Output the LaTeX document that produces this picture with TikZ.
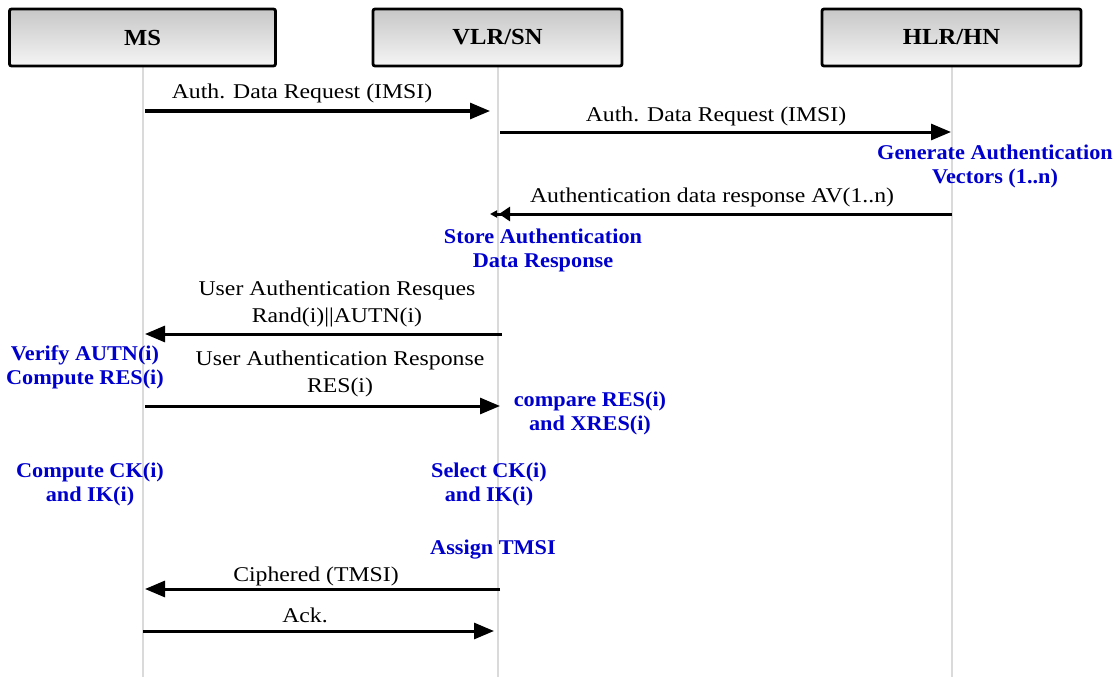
\documentclass[tikz,border=0pt]{standalone}
\usepackage{fontspec}
\setmainfont{Liberation Serif}
\newfontfamily\lblfont[FakeStretch=1.13]{Liberation Serif}
\newfontfamily\actfont[FakeStretch=1.06]{Liberation Serif}
\newfontfamily\hdfont[FakeStretch=1.07]{Liberation Serif}
\usetikzlibrary{arrows.meta}
\definecolor{actblue}{RGB}{0,0,204}
\definecolor{lifegray}{RGB}{218,218,218}
\begin{document}
\begin{tikzpicture}[x=1pt,y=-1pt,
  actor/.style={draw=black, line width=2.8pt, rounded corners=2pt, top color=black!22, bottom color=black!4,
    minimum height=57pt, font=\hdfont\fontsize{23}{27}\selectfont\bfseries, inner sep=0pt},
  life/.style={draw=lifegray, line width=2.5pt},
  msg/.style={line width=3pt, -{Triangle[length=20pt,width=16pt]}},
  lbl/.style={font=\lblfont\fontsize{21}{27}\selectfont, align=center, inner sep=0pt},
  act/.style={font=\actfont\fontsize{21}{24}\selectfont\bfseries, text=actblue, align=center, inner sep=0pt}]
\useasboundingbox (0,0) rectangle (1120,677);
\fill[white] (0,0) rectangle (1120,677);

% lifeline ends
\coordinate (msend) at (143,677);
\coordinate (vlrend) at (498,677);
\coordinate (hlrend) at (952,677);
\draw[life] (143,66) -- (msend);
\draw[life] (498,66) -- (vlrend);
\draw[life] (952,66) -- (hlrend);

% actors
\node[actor, minimum width=266pt] (ms) at (142.5,37.5) {MS};
\node[actor, minimum width=249pt] (vlr) at (497.5,37.5) {VLR/SN};
\node[actor, minimum width=259pt] (hlr) at (951.5,37.5) {HLR/HN};

% message endpoints
\coordinate (a1s) at (145,111);  \coordinate (a1e) at (490,111);
\coordinate (a2s) at (500,132);  \coordinate (a2e) at (951,132);
\coordinate (a3s) at (952,214);  \coordinate (a3e) at (490,214);
\coordinate (a4s) at (502,334);  \coordinate (a4e) at (145,334);
\coordinate (a5s) at (145,406);  \coordinate (a5e) at (500,406);
\coordinate (a6s) at (500,589);  \coordinate (a6e) at (145,589);
\coordinate (a7s) at (143,631);  \coordinate (a7e) at (494,631);

\draw[msg] (a1s) -- (a1e);
\draw[msg] (a2s) -- (a2e);
\draw[line width=3pt, -{Triangle[length=11pt,width=14pt,sep=2pt]Triangle[length=7pt,width=7pt]}] (a3s) -- (a3e);
\draw[msg] (a4s) -- (a4e);
\draw[msg] (a5s) -- (a5e);
\draw[msg] (a6s) -- (a6e);
\draw[msg] (a7s) -- (a7e);

% message labels
\node[lbl] (l1) at (302,93) {Auth. Data Request (IMSI)};
\node[lbl] (l2) at (716,116) {Auth. Data Request (IMSI)};
\node[lbl] (l3) at (712,197) {Authentication data response AV(1..n)};
\node[lbl] (l4) at (337,303.5) {User Authentication Resques\\Rand(i)||AUTN(i)};
\node[lbl] (l5) at (340,374) {User Authentication Response\\RES(i)};
\node[lbl] (l6) at (316,576) {Ciphered (TMSI)};
\node[lbl] (l7) at (305,615) {Ack.};

% actions
\node[act] (gen) at (995,166) {Generate Authentication\\Vectors (1..n)};
\node[act] (store) at (543,250.5) {Store Authentication\\Data Response};
\node[act] (verify) at (85,367) {Verify AUTN(i)\\Compute RES(i)};
\node[act] (cmp) at (590,413) {compare RES(i)\\and XRES(i)};
\node[act] (cck) at (90,484) {Compute CK(i)\\and IK(i)};
\node[act] (sck) at (489,484) {Select CK(i)\\and IK(i)};
\node[act] (tmsi) at (493,550) {Assign TMSI};
\end{tikzpicture}
\end{document}
